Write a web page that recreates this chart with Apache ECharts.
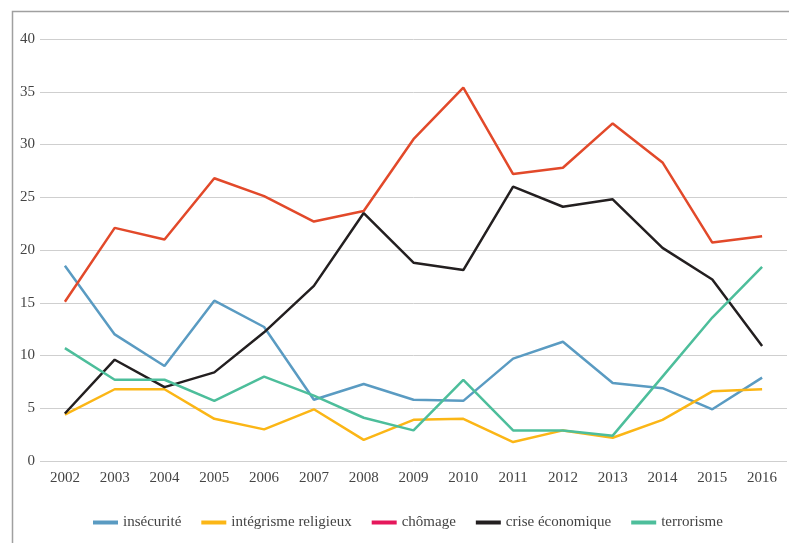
<!DOCTYPE html>
<html lang="fr">
<head>
    <meta charset="UTF-8">
    <title>Préoccupations 2002-2016</title>
    <style>
        * {
            padding: 0;
            margin: 0;
        }

        #chart {
            width: 789px;
            height: 543px;
            background: #fff;
        }
    </style>
    <script src="https://cdn.jsdelivr.net/npm/echarts@6.0.0/dist/echarts.min.js"></script>
</head>
<body>
<div id="chart"></div>
<script>
    const years = ['2002', '2003', '2004', '2005', '2006', '2007', '2008', '2009',
        '2010', '2011', '2012', '2013', '2014', '2015', '2016']
    const insecurite = [18.5, 12, 9, 15.2, 12.7, 5.8, 7.3, 5.8, 5.7, 9.7, 11.3, 7.4, 6.9, 4.9, 7.9]
    const integrisme = [4.4, 6.8, 6.8, 4.0, 3.0, 4.9, 2.0, 3.9, 4.0, 1.8, 2.9, 2.2, 3.9, 6.6, 6.8]
    const chomage = [15.1, 22.1, 21.0, 26.8, 25.1, 22.7, 23.7, 30.5, 35.4, 27.2, 27.8, 32.0, 28.3, 20.7, 21.3]
    const crise = [4.5, 9.6, 7.0, 8.4, 12.2, 16.6, 23.5, 18.8, 18.1, 26.0, 24.1, 24.8, 20.2, 17.2, 10.9]
    const terrorisme = [10.7, 7.7, 7.7, 5.7, 8.0, 6.2, 4.1, 2.9, 7.7, 2.9, 2.9, 2.4, 8.0, 13.6, 18.4]

    const font = 'Liberation Serif'
    let chart = echarts.init(document.getElementById('chart'))

    function line(name, data, color, lineColor) {
        return {
            name: name,
            type: 'line',
            data: data,
            symbol: 'none',
            itemStyle: {color: color},
            lineStyle: {color: lineColor || color, width: 2.5},
            emphasis: {disabled: true}
        }
    }

    chart.setOption({
        animation: false,
        backgroundColor: '#fff',
        graphic: [{
            type: 'rect',
            shape: {x: 12.5, y: 11.5, width: 820, height: 600},
            style: {fill: 'none', stroke: '#a0a0a0', lineWidth: 1.5},
            silent: true
        }],
        grid: {left: 40, right: 2, top: 39, bottom: 82},
        legend: {
            top: 510,
            left: 88,
            icon: 'rect',
            itemWidth: 25,
            itemHeight: 4,
            itemGap: 20,
            textStyle: {fontFamily: font, fontSize: 15, color: '#444'},
            data: ['insécurité', 'intégrisme religieux', 'chômage', 'crise économique', 'terrorisme']
        },
        xAxis: {
            type: 'category',
            data: years,
            boundaryGap: true,
            axisLine: {show: false},
            axisTick: {show: false},
            axisLabel: {fontFamily: font, fontSize: 15, color: '#444', margin: 10}
        },
        yAxis: {
            type: 'value',
            min: 0,
            max: 40,
            interval: 5,
            axisLine: {show: false},
            axisTick: {show: false},
            axisLabel: {fontFamily: font, fontSize: 15, color: '#444', margin: 5},
            splitLine: {lineStyle: {color: '#cfcfcf', width: 1}}
        },
        series: [
            line('insécurité', insecurite, '#5a9bc2'),
            line('intégrisme religieux', integrisme, '#fbb616'),
            line('chômage', chomage, '#e5175b', '#e2492a'),
            line('crise économique', crise, '#231f20'),
            line('terrorisme', terrorisme, '#4dbe9b')
        ]
    })
</script>
</body>
</html>
